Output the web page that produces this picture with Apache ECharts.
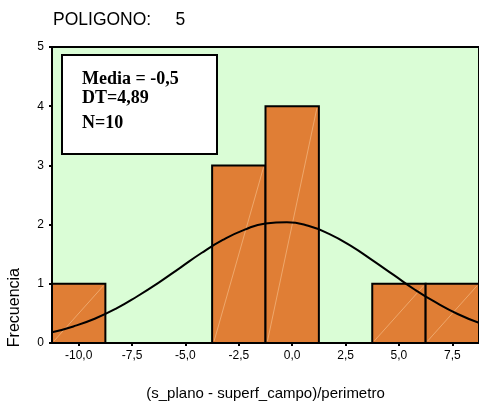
<!DOCTYPE html>
<html>
<head>
<meta charset="utf-8">
<script src="https://cdn.jsdelivr.net/npm/echarts@6/dist/echarts.min.js"></script>
<style>
  html, body { margin: 0; padding: 0; background: #ffffff; overflow: hidden; }
  #chart { width: 479px; height: 406px; }
</style>
</head>
<body>
<div id="chart"></div>
<script>
// Histogram bins: lower edge, upper edge, frequency
const binLower = [-11.25, -8.75, -6.25, -3.75, -1.25, 1.25, 3.75, 6.25];
const binUpper = [-8.75, -6.25, -3.75, -1.25, 1.25, 3.75, 6.25, 8.75];
const binCount = [1, 0, 0, 3, 4, 0, 1, 1];

// Fitted normal curve (x, expected frequency)
const curveX = [-11.25, -10.25, -9.25, -8.25, -7.25, -6.25, -5.25, -4.25, -3.25, -2.25,
                -1.25, -0.25, 0.75, 1.75, 2.75, 3.75, 4.75, 5.75, 6.75, 7.75, 8.75];
const curveY = [0.18, 0.28, 0.41, 0.58, 0.79, 1.02, 1.27, 1.52, 1.74, 1.91,
                2.02, 2.04, 1.98, 1.84, 1.64, 1.40, 1.15, 0.90, 0.68, 0.49, 0.34];

// Axis ticks
const xTicks = [-10, -7.5, -5, -2.5, 0, 2.5, 5, 7.5];
const yTicks = [0, 1, 2, 3, 4, 5];

// Summary statistics shown in the legend box
const statLines = ['Media = -0,5', 'DT=4,89', 'N=10'];

const fmt = v => v.toFixed(1).replace('.', ',');
const SANS = 'Liberation Sans, Arial, sans-serif';
const SERIF_BOLD = 'bold 18px "Liberation Serif", "Times New Roman", serif';

const barData = binLower.map((lo, i) => [lo, binUpper[i], binCount[i]]);
const lineData = curveX.map((x, i) => [x, curveY[i]]);

const chart = echarts.init(document.getElementById('chart'), null, { renderer: 'canvas' });

chart.setOption({
  animation: false,
  backgroundColor: '#ffffff',
  textStyle: { fontFamily: SANS },
  title: {
    text: 'POLIGONO:     5',
    left: 48,
    top: 6,
    textStyle: { fontSize: 17.5, fontWeight: 'normal', color: '#000', fontFamily: SANS }
  },
  grid: {
    left: 52, top: 47, width: 431, height: 298,
    show: true, backgroundColor: '#dafdd6', borderColor: '#000', borderWidth: 2
  },
  xAxis: {
    type: 'value',
    min: binLower[0],
    max: binUpper[binUpper.length - 1],
    splitLine: { show: false },
    axisLine: { onZero: false, lineStyle: { color: '#000', width: 2 } },
    axisTick: { customValues: xTicks, length: 3, lineStyle: { color: '#000', width: 2 } },
    axisLabel: { customValues: xTicks, formatter: fmt, color: '#000', fontSize: 12, margin: 7 },
    name: '(s_plano - superf_campo)/perimetro',
    nameLocation: 'middle',
    nameGap: 43,
    nameTextStyle: { fontSize: 15, color: '#000' }
  },
  yAxis: {
    type: 'value',
    min: yTicks[0],
    max: yTicks[yTicks.length - 1],
    interval: 1,
    splitLine: { show: false },
    axisLine: { show: true, onZero: false, lineStyle: { color: '#000', width: 2 } },
    axisTick: { show: true, length: 3, lineStyle: { color: '#000', width: 2 } },
    axisLabel: { color: '#000', fontSize: 12, margin: 8 }
  },
  graphic: [
    {
      type: 'text',
      left: 7, top: 268,
      rotation: Math.PI / 2,
      style: { text: 'Frecuencia', fontSize: 16, fill: '#000', fontFamily: SANS },
      z: 10
    },
    {
      type: 'rect',
      shape: { x: 62, y: 55, width: 155, height: 99 },
      style: { fill: '#ffffff', stroke: '#000', lineWidth: 2 },
      z: 20
    },
    {
      type: 'text',
      x: 82, y: 70,
      style: { text: statLines[0], font: SERIF_BOLD, fill: '#000' },
      z: 21
    },
    {
      type: 'text',
      x: 82, y: 89,
      style: { text: statLines[1], font: SERIF_BOLD, fill: '#000' },
      z: 21
    },
    {
      type: 'text',
      x: 82, y: 114,
      style: { text: statLines[2], font: SERIF_BOLD, fill: '#000' },
      z: 21
    }
  ],
  series: [
    {
      type: 'custom',
      data: barData,
      encode: { x: [0, 1], y: 2 },
      renderItem: function (params, api) {
        const count = api.value(2);
        if (!count) return null;
        const p0 = api.coord([api.value(0), 0]);
        const p1 = api.coord([api.value(1), count]);
        return {
          type: 'group',
          children: [
            {
              type: 'rect',
              shape: { x: p0[0], y: p1[1], width: p1[0] - p0[0], height: p0[1] - p1[1] },
              style: { fill: '#e07e35', stroke: '#000', lineWidth: 2 }
            },
            {
              type: 'line',
              shape: { x1: p0[0] + 2, y1: p0[1] - 2, x2: p1[0] - 2, y2: p1[1] + 2 },
              style: { stroke: 'rgba(255,220,180,0.55)', lineWidth: 0.8 }
            }
          ]
        };
      },
      z: 2
    },
    {
      type: 'line',
      data: lineData,
      smooth: true,
      symbol: 'none',
      lineStyle: { color: '#000', width: 2 },
      z: 3
    }
  ]
});
</script>
</body>
</html>
